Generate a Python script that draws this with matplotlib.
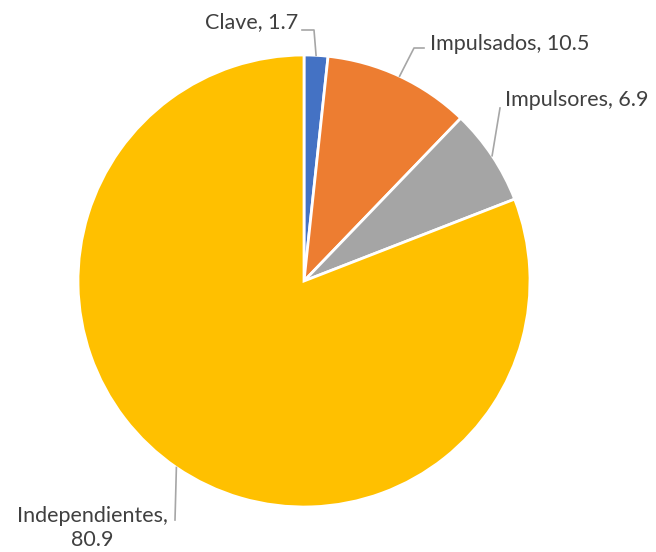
import numpy as np
import matplotlib
matplotlib.use('Agg')
import matplotlib.pyplot as plt

# data
labels = ['Clave', 'Impulsados', 'Impulsores', 'Independientes']
values = [1.7, 10.5, 6.9, 80.9]
colors = ['#4472C4', '#ED7D31', '#A5A5A5', '#FFC000']

W, H = 656, 552
fig = plt.figure(figsize=(W / 100, H / 100), dpi=100)
ax = fig.add_axes([0, 0, 1, 1])

cx, cy, r = 304, H - 281, 226

def px(x, y):
    # pixel coords (top-left origin) -> data coords
    return x, H - y

wedges, _ = ax.pie(values, colors=colors, startangle=90, counterclock=False,
                   center=(cx, cy), radius=r, frame=True,
                   wedgeprops=dict(edgecolor='white', linewidth=2))
ax.set_xlim(0, W)
ax.set_ylim(0, H)
ax.set_aspect('equal')
ax.axis('off')

plt.rcParams['font.family'] = ['Lato', 'DejaVu Sans']
txt_kw = dict(fontsize=15.5, color='#404040')
line_kw = dict(color='#A6A6A6', lw=1.2)

# label text positions and leader elbow points (pixels)
text_pos = [(298, 22, 'right', 'center'), (430, 44, 'left', 'center'),
            (505, 100, 'left', 'center'), (92, 528, 'center', 'center')]
leader = [[(314, 30), (302, 30)], [(414, 48), (424, 48)],
          [(500, 108)], [(175, 520)]]

cum = 0
for i, v in enumerate(values):
    mid = np.deg2rad(90 - (cum + v / 2) / 100 * 360)
    cum += v
    ax_x = cx + r * np.cos(mid)
    ax_y = cy + r * np.sin(mid)
    pts = [(ax_x, ax_y)] + [px(*p) for p in leader[i]]
    xs, ys = zip(*pts)
    ax.plot(xs, ys, **line_kw)
    tx, ty, ha, va = text_pos[i]
    if labels[i] == 'Independientes':
        s = f'{labels[i]},\n{v}'
    else:
        s = f'{labels[i]}, {v}'
    ax.text(*px(tx, ty), s, ha=ha, va=va, linespacing=1.25, **txt_kw)

fig.savefig('out.png', dpi=100)
